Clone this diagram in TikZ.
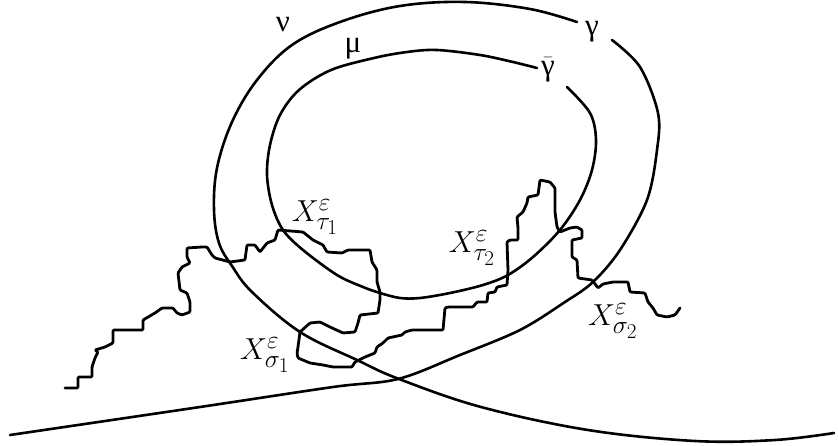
\documentclass[tikz,border=0pt]{standalone}
\usepackage{graphicx}
\usepackage{fontspec}
\newfontfamily\grk{Liberation Serif}
\newcommand{\biglab}[1]{\scalebox{1.22}{#1}}
\begin{document}
\begin{tikzpicture}[x=1pt,y=-1pt, line join=round, line cap=round,
  curve/.style={line width=2.6pt},
  walk/.style={line width=2.8pt, rounded corners=1pt},
  lab/.style={inner sep=0pt, font=\fontsize{24.88}{28}\selectfont},
  glab/.style={inner sep=0pt, font=\grk\fontsize{31}{34}\selectfont}]
\useasboundingbox (0,0) rectangle (838,446);
% outer curve, first piece (bottom-left up to gamma)
\draw[curve] plot[smooth, tension=0.55] coordinates {(10,435) (200,407) (333,387) (398,379) (460,355) (520,330) (565,302) (593,282) (620,250) (647,200) (657,150) (658,113) (640,67) (612,40)};
% outer curve, second piece (from gamma round the top and down to bottom-right)
\draw[curve] plot[smooth, tension=0.6] coordinates {(577,22) (530,9) (465,2) (400,6) (340,22) (292,45) (257,80) (232,122) (217,168) (214,210) (219,243) (232,266) (252,292) (300,332) (357,360) (399,379) (481,407) (588,430) (695,441) (775,440) (834,433)};
% inner curve
\draw[curve] plot[smooth, tension=0.55] coordinates {(567,87) (590,113) (596,140) (592,170) (580,200) (560,230) (533,257) (508,275) (483,285) (450,293) (420,298) (400,298) (380,293) (363,287) (337,275) (303,250) (283,230) (272,205) (267,175) (270,145) (280,115) (299,90) (331,70) (374,58) (407,52) (437,50) (480,55) (513,62) (537,68)};
% random walk
\draw[walk] plot coordinates {(65,388) (78,388) (78,377) (92,377) (92,367) (95,358) (98,352) (95,350) (105,347) (113,343) (113,330) (143,330) (143,320) (155,313) (162,308) (173,308) (177,313) (182,315) (190,312) (190,302) (187,293) (180,290) (178,273) (182,267) (190,263) (187,257) (187,248) (202,247) (207,247) (212,255) (215,258) (230,262) (245,260) (247,245) (255,245) (260,252) (267,243) (275,240) (278,230) (303,232) (313,240) (323,245) (327,252) (342,253) (348,250) (370,250) (372,262) (377,270) (377,282) (380,292) (380,300) (378,313) (360,315) (358,323) (355,332) (343,333) (330,327) (320,322) (310,323) (300,332) (298,347) (297,353) (298,358) (310,363) (323,365) (333,367) (352,367) (355,362) (365,357) (375,353) (377,347) (383,343) (388,338) (402,335) (405,332) (412,330) (443,330) (445,308) (448,307) (473,307) (477,302) (487,302) (488,293) (495,292) (497,287) (507,285) (508,270) (507,242) (510,240) (518,240) (518,228) (517,217) (523,212) (527,203) (528,197) (538,195) (540,180) (550,182) (555,188) (555,212) (557,227) (560,232) (570,228) (577,227) (582,230) (582,238) (572,240) (572,257) (577,260) (578,278) (592,280) (598,288) (603,284) (613,282) (628,282) (630,292) (645,293) (648,302) (653,308) (657,315) (667,317) (675,315) (680,308)};
% labels
\node[glab] (nu) at (283,25) {ν};
\node[glab] (mu) at (353,49) {μ};
\node[glab] (ga) at (592,32) {γ};
\node[glab] (gb) at (548,70) {$\bar{\hbox{\grk γ}}$};
\node[lab] (xt1) at (315,217) {\biglab{$X^{\varepsilon}_{\tau_1}$}};
\node[lab] (xt2) at (472,248) {\biglab{$X^{\varepsilon}_{\tau_2}$}};
\node[lab] (xs1) at (265,355) {\biglab{$X^{\varepsilon}_{\sigma_1}$}};
\node[lab] (xs2) at (613,321) {\biglab{$X^{\varepsilon}_{\sigma_2}$}};
\end{tikzpicture}
\end{document}
